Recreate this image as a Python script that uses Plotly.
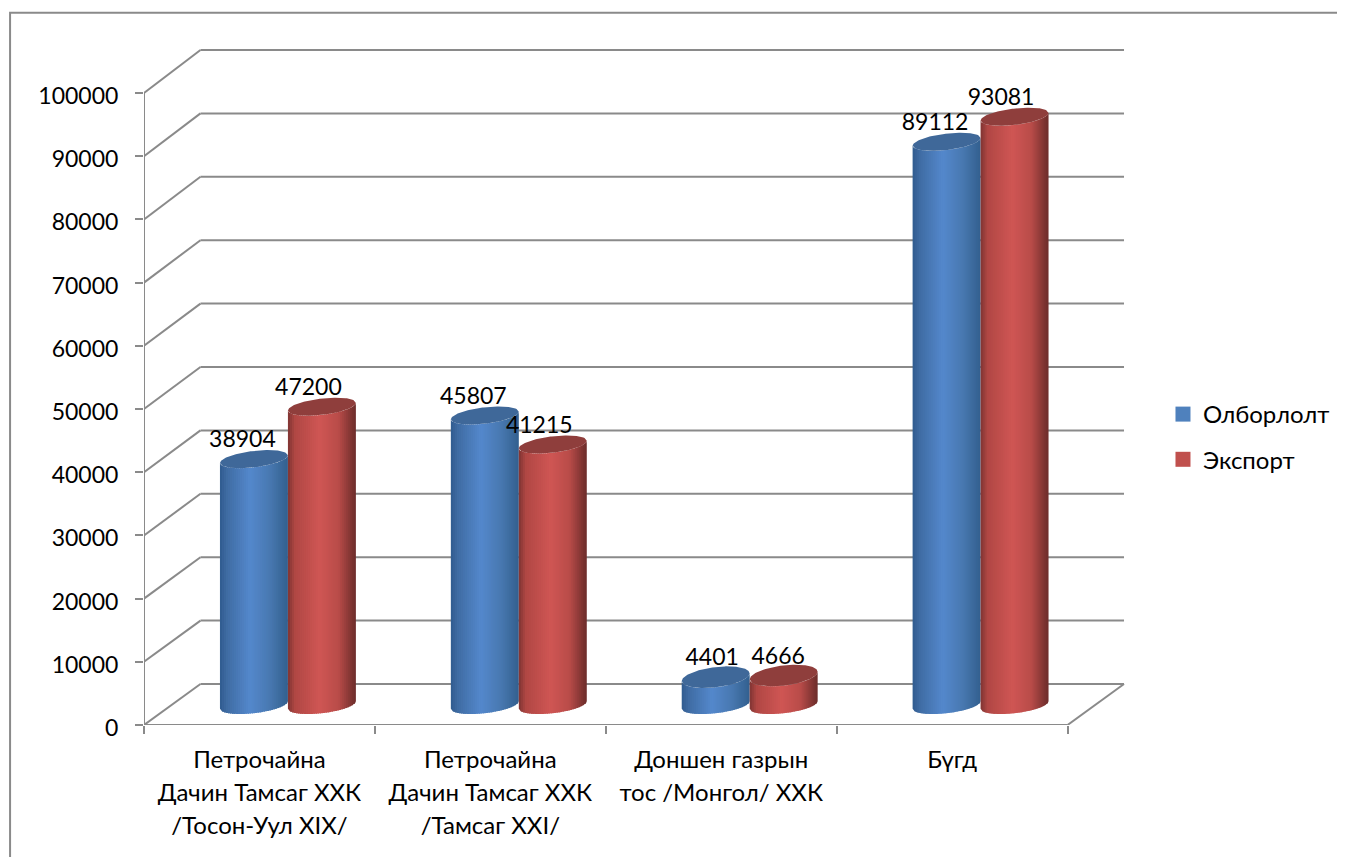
import math
import plotly.graph_objects as go

categories = ["Петрочайна<br>Дачин Тамсаг ХХК<br>/Тосон-Уул XIX/",
              "Петрочайна<br>Дачин Тамсаг ХХК<br>/Тамсаг XXI/",
              "Доншен газрын<br>тос /Монгол/ ХХК",
              "Бүгд"]
olborlolt = [38904, 45807, 4401, 89112]
export = [47200, 41215, 4666, 93081]
y_ticks = [0, 10000, 20000, 30000, 40000, 50000, 60000, 70000, 80000, 90000, 100000]

# Geometry (pixel-to-axis factors of the fake 3D box); page body adds an 8px offset
OFF = 8
PX_X = 231.0
PX_Y = 0.00632
L, B, T, R = 143.5 - OFF, 725 - OFF, 32, 1127
W, H = 1345, 849
FONT = "Lato, 'Noto Sans', sans-serif"
FS = 23
FS_TXT = 24
GRID = "#8a8a8a"

def px(n): return n / PX_X
def py(n): return n / PX_Y

back_dx = px(56.5)
def back_y(v): return py(41) + v * 634 / 632

mid_dx = px(28.5)
base_level = py(20)
half_w = px(34)
cap_tilt = py(3.8)

def cap_h(v):
    return py(8.2 + 2.5 * max(0.0, 1 - v / 20000))

def hex2rgb(c): return [int(c[i:i + 2], 16) for i in (1, 3, 5)]
def shade(stops, t):
    for (a, ca), (b, cb) in zip(stops, stops[1:]):
        if a <= t <= b:
            f = (t - a) / (b - a)
            x, y = hex2rgb(ca), hex2rgb(cb)
            return "rgb(%d,%d,%d)" % tuple(round(p + (q - p) * f) for p, q in zip(x, y))
    return stops[-1][1]

blue_stops = [(-1, "#2f5a8e"), (-.78, "#3f6ca3"), (-.1, "#5488cc"), (.5, "#4878b0"), (1, "#33608f")]
red_stops = [(-1, "#7c3331"), (-.78, "#b04744"), (-.05, "#cf5654"), (.5, "#b94c49"), (1, "#6d2d2b")]

def edge(level, h, t, side):
    return level + cap_tilt * t + side * h * math.sqrt(max(0.0, 1 - t * t))

BANDS = 34
fig = go.Figure()

def add_series(values, offset, stops, cap_color):
    for b in range(BANDS):
        t0 = -1 + 2 * b / BANDS
        t1 = min(1.0, -1 + 2 * (b + 1) / BANDS + 0.03)
        ts = [t0 + (t1 - t0) * j / 3 for j in range(4)]
        xs, ys = [], []
        for i, v in enumerate(values):
            c = i + 0.5 + mid_dx + offset
            top = base_level + v
            xs += [c + half_w * t for t in ts] + [c + half_w * t for t in reversed(ts)] + [None]
            ys += ([edge(base_level, py(8.2), t, -1) for t in ts]
                   + [edge(top, cap_h(v), t, -1) for t in reversed(ts)] + [None])
        fig.add_trace(go.Scatter(x=xs, y=ys, mode="lines", fill="toself", line=dict(width=0),
                                 fillcolor=shade(stops, (t0 + t1) / 2), hoverinfo="skip", showlegend=False))
    xs, ys = [], []
    ts = [-1 + 2 * j / 60 for j in range(61)]
    for i, v in enumerate(values):
        c = i + 0.5 + mid_dx + offset
        top = base_level + v
        xs += [c + half_w * t for t in ts] + [c + half_w * t for t in reversed(ts)] + [None]
        ys += ([edge(top, cap_h(v), t, -1) for t in ts]
               + [edge(top, cap_h(v), t, 1) for t in reversed(ts)] + [None])
    fig.add_trace(go.Scatter(x=xs, y=ys, mode="lines", fill="toself", line=dict(width=0),
                             fillcolor=cap_color, hoverinfo="skip", showlegend=False))

add_series(olborlolt, -px(34), blue_stops, "#3f6899")
add_series(export, px(34), red_stops, "#8f3e3c")

# value labels
label_dx_blue = [-11.5, -11.5, -3.5, -11.5]
label_dx_red = [-13.5, -13.5, -5.5, -13.5]
def add_labels(values, offset, dxs):
    fig.add_trace(go.Scatter(
        x=[i + 0.5 + mid_dx + offset + px(d) for i, d in enumerate(dxs)],
        y=[base_level + v + py(17.5) for v in values],
        text=[str(v) for v in values], mode="text", textposition="middle center",
        textfont=dict(family=FONT, size=FS, color="black"), hoverinfo="skip", showlegend=False))
add_labels(olborlolt, -px(34), label_dx_blue)
add_labels(export, px(34), label_dx_red)

# legend entries
for name, col in (("Олборлолт", "#4f81bd"), ("Экспорт", "#c0504d")):
    fig.add_trace(go.Scatter(x=[None], y=[None], mode="markers", name=name, legendgroup=name,
                             marker=dict(symbol="square", size=15, color=col)))

# box: walls, floor, gridlines
shapes = []
def seg(x0, y0, x1, y1):
    shapes.append(dict(type="line", xref="x", yref="y", x0=x0, y0=y0, x1=x1, y1=y1, layer="below",
                       line=dict(color=GRID, width=2)))
n = len(categories)
for v in y_ticks:
    seg(0, v, back_dx, back_y(v))
    seg(back_dx, back_y(v), n + back_dx, back_y(v))
seg(0, 0, 0, y_ticks[-1])
seg(0, 0, n, 0)
seg(n, 0, n + back_dx, back_y(0))
# outer frame
fx0 = (9.5 - OFF - L) / (R - L)
fx1 = (W - L) / (R - L)
fy0 = -(H - B) / (B - T)
fy1 = (B - (12.7 - OFF)) / (B - T)
shapes.append(dict(type="path", xref="paper", yref="paper", layer="below",
                   path="M %f %f L %f %f L %f %f" % (fx0, fy0, fx0, fy1, fx1, fy1),
                   line=dict(color=GRID, width=2)))

def wrap(label):
    return "<br>".join('<span style="font-size:%dpx">%s</span>' % (FS_TXT, p) for p in label.split("<br>"))

fig.update_layout(
    width=W, height=H, margin=dict(l=L, r=W - R, t=T, b=H - B, autoexpand=False),
    paper_bgcolor="white", plot_bgcolor="white", shapes=shapes,
    font=dict(family=FONT, size=FS, color="black"),
    legend=dict(x=(1163 - OFF - L) / (R - L), xanchor="left", y=(B - (392 - OFF)) / (B - T), yanchor="top",
                tracegroupgap=11, font=dict(family=FONT, size=FS_TXT), bgcolor="rgba(0,0,0,0)"),
    xaxis=dict(range=[0, (R - L) / PX_X], showgrid=False, zeroline=False, showline=False,
               tickmode="array", tickvals=[i + 0.5 for i in range(n)],
               ticktext=[wrap(c) for c in categories], tickfont=dict(family=FONT, size=25.4),
               ticks="", ticklabelstandoff=17, tickangle=0,
               minor=dict(tickmode="array", tickvals=list(range(n + 1)), ticks="outside",
                          ticklen=8, tickwidth=2, tickcolor=GRID, showgrid=False)),
    yaxis=dict(range=[0, (B - T) / PX_Y], showgrid=False, zeroline=False, showline=False,
               tickmode="array", tickvals=y_ticks, ticktext=[str(v) for v in y_ticks],
               ticks="outside", ticklen=8, tickwidth=2, tickcolor=GRID, ticklabelstandoff=12,
               ticklabelshift=3),
)
fig.write_html("out.html")
